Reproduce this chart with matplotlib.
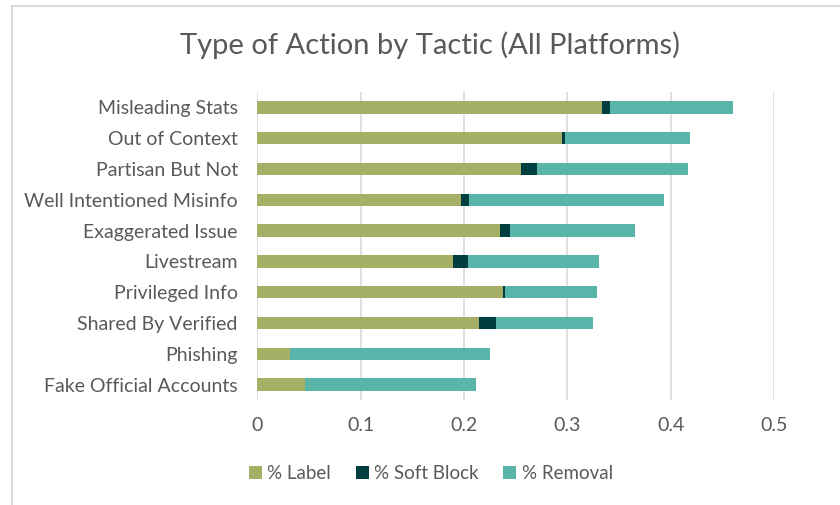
import matplotlib.pyplot as plt
from matplotlib.lines import Line2D

# tactics, listed top to bottom as in the chart
tactics = ["Misleading Stats", "Out of Context", "Partisan But Not",
           "Well Intentioned Misinfo", "Exaggerated Issue", "Livestream",
           "Privileged Info", "Shared By Verified", "Phishing",
           "Fake Official Accounts"]
pct_label = [0.334, 0.295, 0.255, 0.197, 0.235, 0.189, 0.238, 0.215, 0.032, 0.046]
pct_soft_block = [0.007, 0.003, 0.016, 0.008, 0.010, 0.0145, 0.0015, 0.016, 0.0, 0.0]
pct_removal = [0.119, 0.121, 0.146, 0.189, 0.121, 0.1275, 0.089, 0.094, 0.193, 0.1655]

xticks = [0, 0.1, 0.2, 0.3, 0.4, 0.5]
xtick_labels = ["0", "0.1", "0.2", "0.3", "0.4", "0.5"]

col_label = "#A5B066"
col_soft = "#003F3F"
col_removal = "#59B4A9"
txt = "#595959"

plt.rcParams["font.family"] = ["Lato", "DejaVu Sans"]

fig = plt.figure(figsize=(8.4, 5.05), dpi=100)
ax = fig.add_axes([0.3063, 0.2079, 0.615, 0.6099])

# chart border (left and top edges visible)
bx = 11.5 / 840
by = 1 - 6 / 505
fig.lines.append(Line2D([bx, bx], [0, by], transform=fig.transFigure,
                        color="#D9D9D9", linewidth=1.5))
fig.lines.append(Line2D([bx, 1], [by, by], transform=fig.transFigure,
                        color="#D9D9D9", linewidth=1.5))

y = list(range(len(tactics)))
left2 = [a + b for a, b in zip(pct_label, pct_soft_block)]
ax.barh(y, pct_label, height=0.4, color=col_label, label="% Label", zorder=3)
ax.barh(y, pct_soft_block, left=pct_label, height=0.4, color=col_soft,
        label="% Soft Block", zorder=3)
ax.barh(y, pct_removal, left=left2, height=0.4, color=col_removal,
        label="% Removal", zorder=3)

ax.set_ylim(len(tactics) - 0.5, -0.5)
ax.set_xlim(0, 0.5)
ax.set_yticks(y)
ax.set_yticklabels(tactics, fontsize=14, color=txt)
ax.set_xticks(xticks)
ax.set_xticklabels(xtick_labels, fontsize=14, color=txt)
ax.tick_params(axis="both", length=0)
ax.tick_params(axis="y", pad=14)
ax.tick_params(axis="x", pad=12)
for s in ax.spines.values():
    s.set_visible(False)
ax.grid(axis="x", color="#D9D9D9", linewidth=1.2, zorder=0)

fig.text(0.512, 0.91, "Type of Action by Tactic (All Platforms)",
         ha="center", va="center", fontsize=21, color=txt)

handles, labels = ax.get_legend_handles_labels()
fig.legend(handles, labels, loc="center", bbox_to_anchor=(0.513, 0.063),
           ncol=3, frameon=False, fontsize=13.5, labelcolor=txt,
           handlelength=0.7, handleheight=0.7, handletextpad=0.3,
           columnspacing=1.3)

fig.savefig("out.png", dpi=100)
